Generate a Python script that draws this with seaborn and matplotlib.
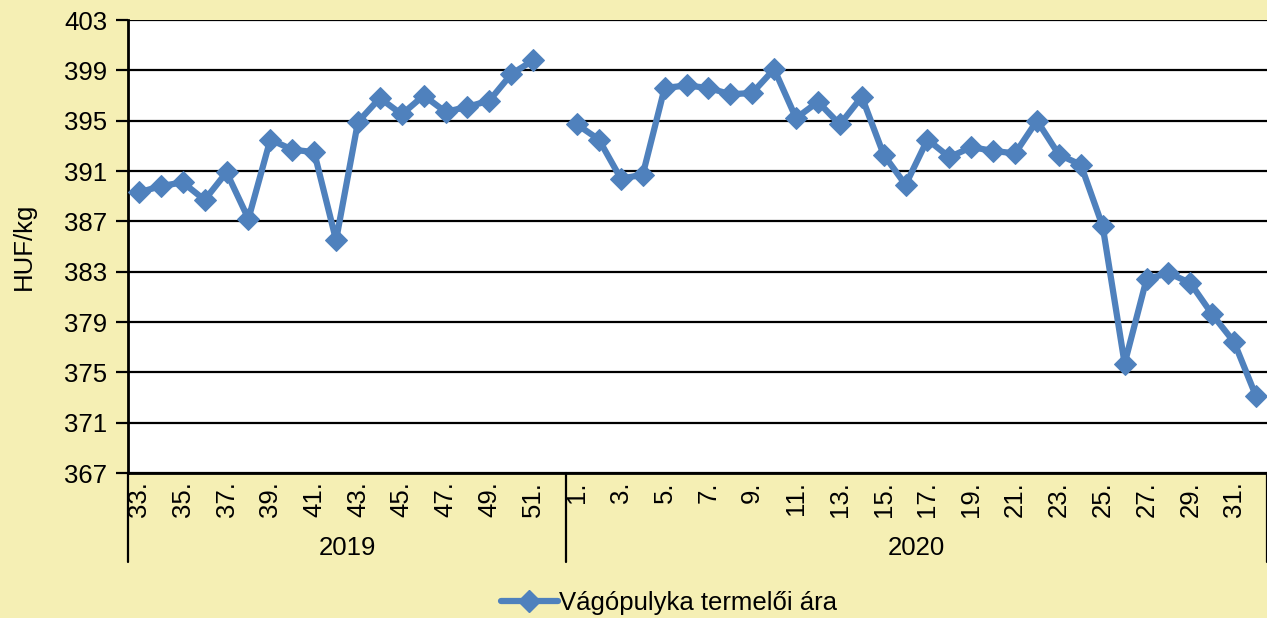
import numpy as np
import pandas as pd
import matplotlib.pyplot as plt
import matplotlib.transforms as mtransforms
from matplotlib.lines import Line2D
import seaborn as sns

# weekly producer price of slaughter turkey, HUF/kg
weeks_2019 = list(range(33, 53))
prices_2019 = [389.3, 389.8, 390.1, 388.7, 390.9, 387.2, 393.5, 392.7, 392.5, 385.5,
               394.9, 396.8, 395.5, 397.0, 395.7, 396.1, 396.6, 398.7, 399.8, np.nan]
weeks_2020 = list(range(1, 33))
prices_2020 = [394.7, 393.5, 390.4, 390.7, 397.6, 397.8, 397.6, 397.1, 397.2, 399.1,
               395.2, 396.5, 394.7, 396.9, 392.3, 389.9, 393.5, 392.1, 392.9, 392.6,
               392.4, 395.0, 392.3, 391.5, 386.6, 375.7, 382.4, 382.9, 382.1, 379.6,
               377.4, 373.1]
years = ['2019', '2020']
y_ticks = list(range(367, 404, 4))
series_name = 'Vágópulyka termelői ára'

df = pd.DataFrame({
    'year': ['2019'] * len(weeks_2019) + ['2020'] * len(weeks_2020),
    'week': weeks_2019 + weeks_2020,
    'price': prices_2019 + prices_2020,
})
df['pos'] = np.arange(len(df))

sns.set_style('white')
plt.rcParams['font.family'] = ['Liberation Sans', 'DejaVu Sans']
plt.rcParams['text.color'] = 'black'
plt.rcParams['axes.labelcolor'] = 'black'
plt.rcParams['xtick.color'] = 'black'
plt.rcParams['ytick.color'] = 'black'

bg = '#F5EFB4'
blue = '#4F81BD'
fs = 18.5

fig = plt.figure(figsize=(12.67, 6.18), dpi=100, facecolor=bg)
ax = fig.add_axes([0.101, 0.2346, 0.899, 0.733])
ax.set_facecolor('white')

for yr in years:
    sub = df[(df['year'] == yr) & df['price'].notna()]
    sns.lineplot(data=sub, x='pos', y='price', ax=ax, color=blue, linewidth=4.5,
                 marker='D', markersize=11, markeredgecolor=blue, legend=False, zorder=3)

ax.set_xlim(-0.5, len(df) - 0.5)
ax.set_ylim(367, 403)
ax.set_yticks(y_ticks)
ax.set_yticklabels([str(v) for v in y_ticks], fontsize=fs)
ax.grid(axis='y', color='black', linewidth=1.6)
ax.grid(axis='x', visible=False)
ax.set_axisbelow(True)

ax.set_xticks(df['pos'])
ax.set_xticklabels([f'{w}.' if w % 2 == 1 else '' for w in df['week']],
                   rotation=90, fontsize=fs, va='top')
ax.tick_params(axis='x', length=0, pad=6)
ax.tick_params(axis='y', length=9, width=1.6, color='black', direction='out', pad=6, left=True)

for s in ['top', 'right']:
    ax.spines[s].set_visible(False)
ax.spines['left'].set_color('black')
ax.spines['left'].set_linewidth(2)
ax.spines['bottom'].set_color('black')
ax.spines['bottom'].set_linewidth(2)

ax.set_xlabel('')
ax.set_ylabel('HUF/kg', fontsize=fs, labelpad=20)

# year grouping below the week labels
trans = mtransforms.blended_transform_factory(ax.transData, ax.transAxes)
n19 = len(weeks_2019)
edges = [-0.5, n19 - 0.5, len(df) - 0.5]
for e in edges:
    ax.plot([e, e], [0, -0.196], transform=trans, color='black', linewidth=1.6, clip_on=False)
ax.text((edges[0] + edges[1]) / 2, -0.165, years[0], transform=trans, ha='center', va='center', fontsize=fs)
ax.text((edges[1] + edges[2]) / 2, -0.165, years[1], transform=trans, ha='center', va='center', fontsize=fs)

handle = Line2D([], [], color=blue, linewidth=4.5, marker='D', markersize=11)
fig.legend([handle], [series_name], loc='center', bbox_to_anchor=(0.528, 0.024),
           frameon=False, fontsize=fs, handlelength=2.2, handletextpad=0.05)

fig.savefig('out.png', dpi=100, facecolor=bg)
